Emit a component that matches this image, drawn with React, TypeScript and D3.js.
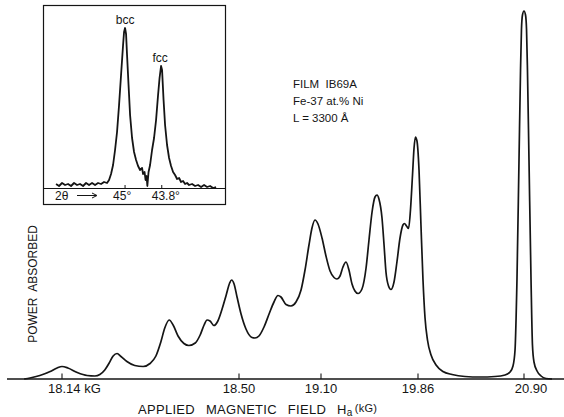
import React from "react";
import * as d3 from "d3";

// Main chart: labelled resonance fields (kG) – axis is non-linear in the original
const FIELD_TICKS = [18.14, 18.5, 19.1, 19.86, 20.9];
const FIELD_TICK_LABELS = ["18.14 kG", "18.50", "19.10", "19.86", "20.90"];

// Applied field (kG) and absorbed power (arbitrary units)
const FIELD_KG = [
  18.063, 18.075, 18.095, 18.116, 18.13, 18.14, 18.152, 18.171, 18.191, 18.207, 18.217, 18.227, 18.236, 18.244,
  18.252, 18.26, 18.272, 18.288, 18.305, 18.319, 18.331, 18.341, 18.349, 18.358, 18.366, 18.376, 18.388, 18.398,
  18.411, 18.421, 18.429, 18.435, 18.441, 18.449, 18.457, 18.465, 18.474, 18.481, 18.485, 18.49, 18.496,
  18.515, 18.551, 18.595, 18.617, 18.646, 18.683, 18.72, 18.756, 18.785, 18.807, 18.844, 18.88, 18.917, 18.954,
  18.983, 19.012, 19.034, 19.056, 19.078,
  19.108, 19.139, 19.171, 19.202, 19.225, 19.249, 19.272, 19.296, 19.319, 19.343, 19.366, 19.39, 19.421, 19.453,
  19.476, 19.5, 19.523, 19.539, 19.554, 19.578, 19.594, 19.609, 19.629, 19.648, 19.672, 19.695, 19.719, 19.742,
  19.754, 19.77, 19.786, 19.801, 19.817, 19.829, 19.84, 19.852,
  19.87, 19.889, 19.909, 19.929, 19.953, 19.988, 20.037, 20.105, 20.194, 20.321, 20.468, 20.615, 20.714, 20.763,
  20.792, 20.812, 20.831, 20.851, 20.866, 20.875, 20.885, 20.9, 20.915, 20.925, 20.934, 20.949, 20.969, 20.983,
  20.998, 21.028, 21.067, 21.116, 21.175,
];
const POWER = [
  0, 1, 3.5, 7.5, 11, 12.5, 11, 6.5, 3.5, 3, 4.5, 9, 16, 23, 25.5, 22.5, 17.5, 13.5, 12.5, 15.5, 23, 37, 51, 59, 54,
  43, 35.5, 33.5, 36, 44, 54, 59, 58, 53.5, 58, 69, 84, 96, 99, 95, 82,
  65, 50, 41.5, 41, 43, 52, 65, 77, 83.5, 82, 74.5, 73, 77, 89, 109, 134, 151, 159, 155,
  141, 123, 108, 101.5, 100, 103, 112, 117, 109, 95, 88, 85.5, 90, 111, 139, 167, 182, 184, 180, 161, 134, 107, 93,
  89.5, 97, 117, 141, 154, 155.5, 153, 150.5, 169, 204, 231, 242, 238,
  209, 154, 99, 61, 39, 24, 14, 7.5, 4.5, 2.5, 2, 2.5, 4, 7, 13, 29, 99, 219, 309, 349, 364, 368, 364, 349, 309, 219,
  99, 34, 17, 8, 3, 0.5, 0,
];

// Inset: X-ray diffraction scan, 2θ (degrees, decreasing to the right) and intensity
const TWO_THETA = [
  47.256, 47.158, 47.06, 46.962, 46.864, 46.766, 46.668, 46.57, 46.472, 46.373, 46.275, 46.177, 46.079, 45.981,
  45.883, 45.785, 45.687, 45.589, 45.523, 45.458, 45.392, 45.327, 45.262, 45.196, 45.131, 45.065, 45.033, 45.0,
  44.967, 44.935, 44.886, 44.836, 44.771, 44.706, 44.64, 44.575, 44.509, 44.444, 44.411, 44.362, 44.33, 44.297,
  44.271, 44.232, 44.182, 44.117, 44.052, 43.986, 43.921, 43.872, 43.823, 43.79, 43.741, 43.692, 43.627, 43.561,
  43.496, 43.43, 43.365, 43.299, 43.234, 43.169, 43.103, 43.038, 42.973, 42.908, 42.809, 42.711, 42.613, 42.515,
  42.417, 42.319, 42.22, 42.122, 42.024,
];
const INTENSITY = [
  2, 0, 3, 1, 2, 0, 3, 1, 2, 0, 3, 1, 3, 1, 3, 2, 4, 3, 6, 12, 21, 36, 54, 81, 111, 141, 154, 158, 152, 131, 101, 71,
  48, 34, 26, 20, 16, 18, 12, 14, 6, 10, 0, 14, 21, 36, 48, 66, 91, 108, 120, 116, 86, 61, 41, 28, 20, 14, 11, 7, 8,
  4, 5, 2, 3, 1, 2, 0, 1, -1, 1, -1, 0, -2, -1,
];
const INSET_TICKS = [45, 43.8];
const INSET_TICK_LABELS = ["45°", "43.8°"];
const PHASES = ["bcc", "fcc"];
const PHASE_2THETA = [45.0, 43.823];
const PHASE_INTENSITY = [158, 120];

const INFO_LINES = ["FILM  IB69A", "Fe-37 at.% Ni", "L = 3300 Å"];

const FONT = "'Liberation Sans', Arial, sans-serif";
const INK = "#151515";

export default function App() {
  const W = 564;
  const H = 417;
  const axisY = 379;

  const x = d3.scaleLinear().domain(FIELD_TICKS).range([62, 239, 321, 418, 524]);
  const y = d3.scaleLinear().domain([0, 369]).range([axisY, 10]);

  const mainLine = d3
    .line<number>()
    .x((_, i) => x(FIELD_KG[i]))
    .y((d) => y(d))
    .curve(d3.curveMonotoneX);

  // Inset
  const box = { x0: 43.5, y0: 5.5, x1: 225.5, y1: 204.5, axis: 188.5 };
  const ix = d3.scaleLinear().domain([47.65, 41.7]).range([44, 226]);
  const iy = d3.scaleLinear().domain([0, 158]).range([186, 28]);
  const insetLine = d3
    .line<number>()
    .x((_, i) => ix(TWO_THETA[i]))
    .y((d) => iy(d))
    .curve(d3.curveLinear);

  return (
    <svg width={W} height={H} viewBox={`0 0 ${W} ${H}`} style={{ position: "absolute", left: 0, top: 0, background: "#fff" }}>
      <style>{`body{margin:0}`}</style>
      <rect x={0} y={0} width={W} height={H} fill="#fff" />

      {/* main x axis */}
      <line x1={7} x2={564} y1={axisY} y2={axisY} stroke={INK} strokeWidth={1.3} />
      {FIELD_TICKS.map((t, i) => (
        <line key={"t" + i} x1={x(t)} x2={x(t)} y1={axisY} y2={axisY - 5.5} stroke={INK} strokeWidth={1.1} />
      ))}
      {FIELD_TICKS.map((t, i) => {
        const first = i === 0;
        const last = i === FIELD_TICKS.length - 1;
        return (
          <text
            key={"l" + i}
            x={first ? x(t) - 14 : x(t) + (last ? 7 : 0)}
            y={392.7}
            fontFamily={FONT}
            fontSize={13}
            fill={INK}
            textAnchor={first ? "start" : "middle"}
          >
            {FIELD_TICK_LABELS[i]}
          </text>
        );
      })}
      <text x={138} y={413.5} fontFamily={FONT} fontSize={13} fill={INK} wordSpacing={7} letterSpacing={0.3}>
        APPLIED MAGNETIC FIELD H
        <tspan fontSize={10} dy={2}>a</tspan>
        <tspan fontSize={11} dy={-4} dx={2}>(kG)</tspan>
      </text>

      {/* y label */}
      <text
        transform="translate(37,284) rotate(-90)"
        textAnchor="middle"
        fontFamily={FONT}
        fontSize={12}
        fill={INK}
        wordSpacing={3}
      >
        POWER ABSORBED
      </text>

      {/* main curve */}
      <path d={mainLine(POWER) || ""} fill="none" stroke={INK} strokeWidth={1.7} strokeLinejoin="round" />

      {/* sample info */}
      {INFO_LINES.map((s, i) => (
        <text key={"info" + i} x={293} y={88 + i * 17} fontFamily={FONT} fontSize={11.5} fill={INK} xmlSpace="preserve">
          {s}
        </text>
      ))}

      {/* inset */}
      <rect x={box.x0} y={box.y0} width={box.x1 - box.x0} height={box.y1 - box.y0} fill="#fff" stroke={INK} strokeWidth={1.2} />
      <line x1={box.x0} x2={box.x1} y1={box.axis} y2={box.axis} stroke={INK} strokeWidth={1.1} />
      {INSET_TICKS.map((t, i) => (
        <line key={"it" + i} x1={ix(t)} x2={ix(t)} y1={box.axis} y2={box.axis - 3.5} stroke={INK} strokeWidth={1} />
      ))}
      {INSET_TICKS.map((t, i) => (
        <text key={"il" + i} x={ix(t) - (i === 0 ? 12 : 10)} y={199.5} fontFamily={FONT} fontSize={12} fill={INK}>
          {INSET_TICK_LABELS[i]}
        </text>
      ))}
      <text x={55} y={199.5} fontFamily={FONT} fontSize={12} fill={INK}>
        2θ
      </text>
      <line x1={77} x2={96} y1={195.5} y2={195.5} stroke={INK} strokeWidth={1} />
      <path d="M92,193 L97,195.5 L92,198" fill="none" stroke={INK} strokeWidth={1} />
      <path d={insetLine(INTENSITY) || ""} fill="none" stroke={INK} strokeWidth={1.8} strokeLinejoin="round" />
      {PHASES.map((p, i) => (
        <text
          key={"ph" + i}
          x={ix(PHASE_2THETA[i]) - (i === 1 ? 1 : 0)}
          y={iy(PHASE_INTENSITY[i]) - 4}
          fontFamily={FONT}
          fontSize={12}
          fill={INK}
          textAnchor="middle"
        >
          {p}
        </text>
      ))}
    </svg>
  );
}
